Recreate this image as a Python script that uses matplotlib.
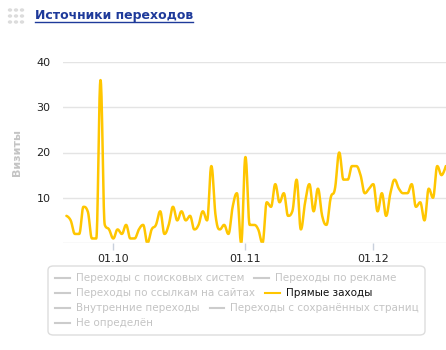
import numpy as np
import pandas as pd
import matplotlib
matplotlib.use("Agg")
import matplotlib.pyplot as plt
import matplotlib.dates as mdates
from matplotlib.lines import Line2D
from matplotlib.patches import FancyBboxPatch, Circle

# Daily visits, "Прямые заходы", 20 Sep - 18 Dec
start_date = "2011-09-20"
visits = [
    6, 5, 2, 2, 8, 7, 1, 1, 36, 4, 3,                      # Sep 20-30
    1, 3, 2, 4, 1, 1, 3, 4, 0, 3, 4, 7, 2, 4, 8, 5,        # Oct 1-16
    7, 5, 6, 3, 4, 7, 5, 17, 6, 3, 4, 2, 8, 11, 0,         # Oct 17-31
    19, 4, 4, 3, 0, 9, 8, 13, 9, 11, 6, 7, 14, 3, 9,       # Nov 1-15
    13, 7, 12, 6, 4, 10, 12, 20, 14, 14, 17, 17, 15, 11, 12,  # Nov 16-30
    13, 7, 11, 6, 11, 14, 12, 11, 11, 13, 8, 9, 5, 12, 10, 17, 15, 17,  # Dec 1-18
]
tick_dates = ["2011-10-01", "2011-11-01", "2011-12-01"]
tick_labels = ["01.10", "01.11", "01.12"]
y_ticks = [10, 20, 30, 40]

legend_items = [
    "Переходы с поисковых систем", "Переходы по рекламе",
    "Переходы по ссылкам на сайтах", "Прямые заходы",
    "Внутренние переходы", "Переходы с сохранённых страниц",
    "Не определён",
]
active_item = "Прямые заходы"

dates = pd.date_range(start_date, periods=len(visits), freq="D")
x = mdates.date2num(dates)
y = np.array(visits, dtype=float)


def spline_path(xs, ys, smoothing=1.5, steps=20):
    # bezier spline with horizontal tangents at extremes (no false peaks)
    n = len(xs)
    lc = [(xs[i], ys[i]) for i in range(n)]
    rc = [(xs[i], ys[i]) for i in range(n)]
    d = smoothing + 1
    for i in range(1, n - 1):
        px, py = xs[i], ys[i]
        lx, ly = (smoothing * px + xs[i - 1]) / d, (smoothing * py + ys[i - 1]) / d
        rx, ry = (smoothing * px + xs[i + 1]) / d, (smoothing * py + ys[i + 1]) / d
        corr = (ry - ly) * (rx - px) / (rx - lx) + py - ry
        ly += corr
        ry += corr
        if ly > ys[i - 1] and ly > py:
            ly = max(ys[i - 1], py); ry = 2 * py - ly
        elif ly < ys[i - 1] and ly < py:
            ly = min(ys[i - 1], py); ry = 2 * py - ly
        if ry > ys[i + 1] and ry > py:
            ry = max(ys[i + 1], py); ly = 2 * py - ry
        elif ry < ys[i + 1] and ry < py:
            ry = min(ys[i + 1], py); ly = 2 * py - ry
        lc[i] = (lx, ly)
        rc[i] = (rx, ry)
    t = np.linspace(0, 1, steps)[:, None]
    out = []
    for i in range(n - 1):
        p0 = np.array([xs[i], ys[i]])
        p1 = np.array(rc[i])
        p2 = np.array(lc[i + 1])
        p3 = np.array([xs[i + 1], ys[i + 1]])
        seg = ((1 - t) ** 3) * p0 + 3 * ((1 - t) ** 2) * t * p1 + 3 * (1 - t) * t ** 2 * p2 + t ** 3 * p3
        out.append(seg if i == 0 else seg[1:])
    pts = np.vstack(out)
    return pts[:, 0], pts[:, 1]


W, H = 446, 350
fig = plt.figure(figsize=(W / 100, H / 100), dpi=100)
plt.rcParams["font.family"] = "DejaVu Sans"

ax = fig.add_axes([63 / W, 1 - 243 / H, (W - 63) / W, (243 - 62) / H])
sx, sy = spline_path(x, y)
ax.plot(sx, sy, color="#ffc600", lw=1.8, solid_capstyle="round", solid_joinstyle="round")

ax.set_ylim(0, 40)
ax.set_xlim(x[0] - 0.8, x[-1] + 0.05)
ax.set_yticks(y_ticks)
ax.set_yticklabels([str(v) for v in y_ticks], fontsize=8, color="#222222")
ax.set_xticks(mdates.date2num(pd.to_datetime(tick_dates)))
ax.set_xticklabels(tick_labels, fontsize=8, color="#222222")
ax.tick_params(axis="y", length=0, pad=9)
ax.tick_params(axis="x", length=5, width=1, color="#c8d0dc", pad=3, direction="out")
for s in ax.spines.values():
    s.set_visible(False)
ax.grid(axis="y", color="#e4e4e4", lw=1)
ax.axhline(0, color="#e4e4e4", lw=1)
ax.set_axisbelow(True)
ax.set_ylabel("Визиты", fontsize=8, color="#c4c4c4", fontweight="bold", labelpad=10)

# header: dots icon + underlined title
for cx in (10, 16, 22):
    for cy in (10, 16, 22):
        fig.patches.append(Circle((cx / W, 1 - cy / H), 2.2 / W, transform=fig.transFigure,
                                  color="#dcdcdc", lw=0))
title = fig.text(35 / W, 1 - 16 / H, "Источники переходов", fontsize=9, fontweight="bold",
                 color="#1e3a9a", va="center", ha="left")
fig.canvas.draw()
bb = title.get_window_extent().transformed(fig.transFigure.inverted())
fig.add_artist(Line2D([bb.x0, bb.x1], [bb.y0 + 1.0 / H, bb.y0 + 1.0 / H], transform=fig.transFigure,
                      color="#1e3a9a", lw=1))

# legend box
fig.patches.append(FancyBboxPatch((48 / W, 1 - 335 / H), 377 / W, 69 / H,
                                  boxstyle="round,pad=0,rounding_size=0.012",
                                  transform=fig.transFigure, fc="white", ec="#dddddd", lw=1))
rows = [(278, [legend_items[0], legend_items[1]]),
        (293, [legend_items[2], legend_items[3]]),
        (308, [legend_items[4], legend_items[5]]),
        (323, [legend_items[6]])]
renderer = fig.canvas.get_renderer()
for ry, names in rows:
    px = 55
    for name in names:
        on = name == active_item
        fig.add_artist(Line2D([px / W, (px + 15) / W], [1 - ry / H] * 2, transform=fig.transFigure,
                              color="#ffc600" if on else "#cccccc", lw=1.5))
        t = fig.text((px + 21) / W, 1 - ry / H, name, fontsize=7.45, va="center", ha="left",
                     color="#111111" if on else "#c4c4c4")
        px += 21 + t.get_window_extent(renderer).width + 10

fig.savefig("out.png", dpi=100)
